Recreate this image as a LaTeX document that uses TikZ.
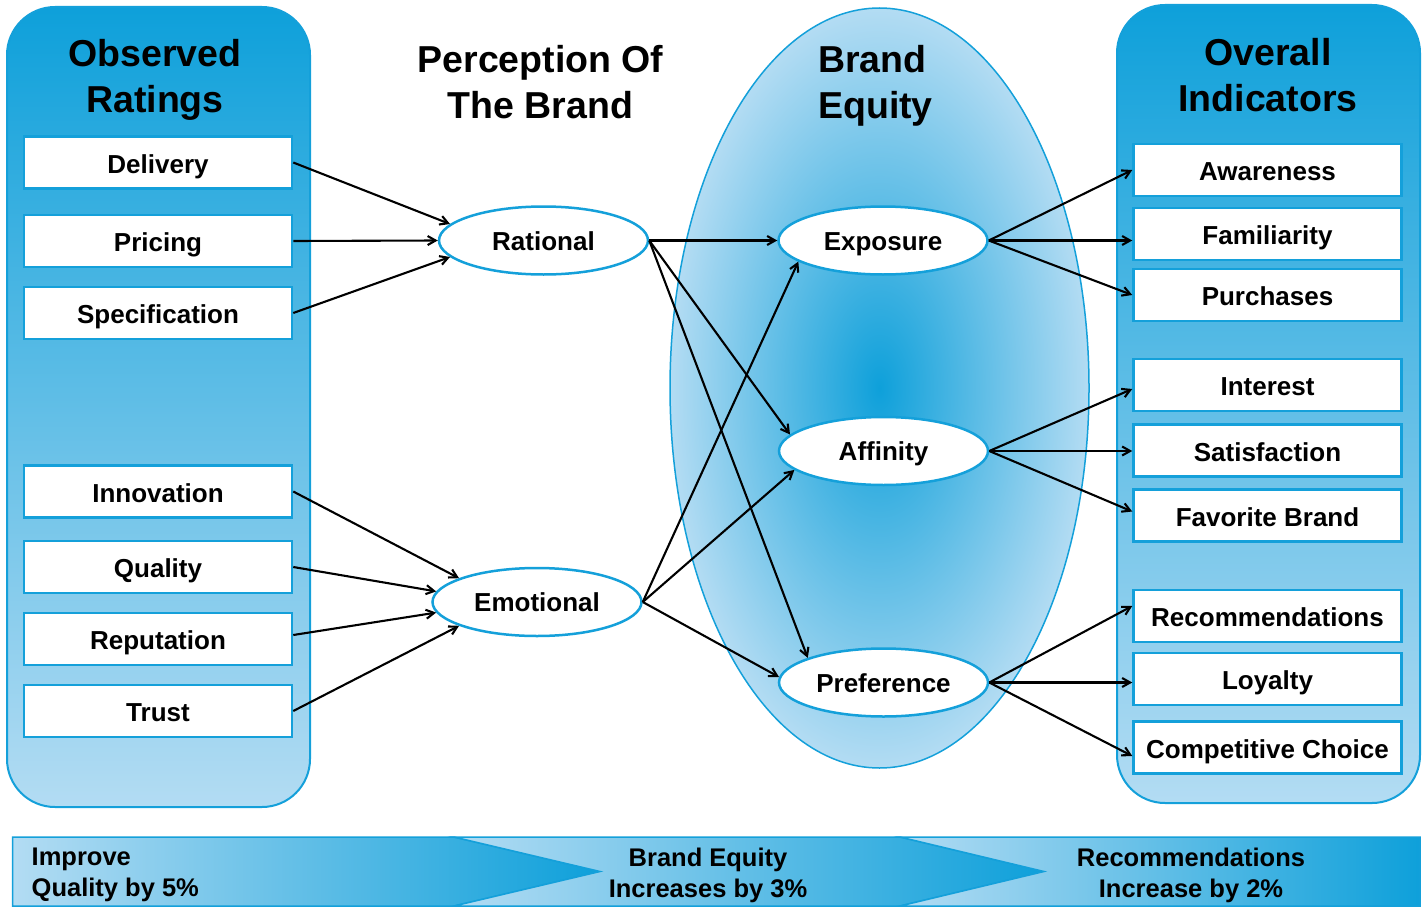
\documentclass[tikz,border=0pt]{standalone}
\usepackage{fontspec}
\setmainfont{Liberation Sans}
\usetikzlibrary{shapes.geometric,arrows.meta}
\definecolor{rim}{HTML}{14A0DA}
\definecolor{deep}{HTML}{0EA0DA}
\definecolor{pale}{HTML}{B3DCF3}
\begin{document}
\begin{tikzpicture}[x=1pt,y=-1pt,
  panel/.style={draw=rim, line width=2pt, top color=deep, bottom color=pale, rounded corners=48pt},
  chevron/.style={draw=rim, line width=1.5pt, left color=pale, right color=deep},
  rating/.style={draw=rim, line width=2.5pt, fill=white, minimum width=268pt, minimum height=52pt,
    inner sep=0pt, text height=23pt, text depth=2pt, font=\bfseries\fontsize{26}{30}\selectfont},
  factor/.style={ellipse, draw=rim, line width=2.5pt, fill=white, minimum width=209pt, minimum height=68pt,
    inner sep=0pt, text height=21pt, text depth=2pt, font=\bfseries\fontsize{26}{30}\selectfont},
  heading/.style={inner sep=0pt, font=\bfseries\fontsize{37.5}{46}\selectfont},
  bannertext/.style={inner sep=0pt, font=\bfseries\fontsize{25.5}{31}\selectfont},
  link/.style={draw=black, line width=2.1pt, -{Straight Barb[length=8pt,width=9pt]}}
]
% canvas
\fill[white] (0,0) rectangle (1426,907);
\useasboundingbox (0,0) rectangle (1426,907);

% bottom banner: three chevrons
\path[chevron] (12.5,837) -- (454,837) -- (600,871.5) -- (454,906) -- (12.5,906) -- cycle;
\path[chevron] (454,837) -- (900,837) -- (1044,871.5) -- (900,906) -- (454,906) -- (600,871.5) -- cycle;
\path[chevron] (900,837) -- (1420,837) -- (1420,906) -- (900,906) -- (1044,871.5) -- cycle;
\node[bannertext, align=left, anchor=west] (bn1) at (31.5,875) {Improve\\Quality by 5\%};
\node[bannertext, align=center] (bn2) at (708,875) {Brand Equity\\Increases by 3\%};
\node[bannertext, align=center] (bn3) at (1191,875) {Recommendations\\Increase by 2\%};

% side panels
\path[panel] (7,7) rectangle (310,807);
\path[panel] (1117,5) rectangle (1420,803);

% brand equity zone
\path[draw=rim, line width=1.5pt, inner color=deep, outer color=pale]
  (879.5,388) ellipse [x radius=209.5, y radius=380];

% headings
\node[heading, align=center] (obsTitle) at (155,80.2) {Observed\\Ratings};
\node[heading, align=center] (ovrTitle) at (1268,74.7) {Overall\\Indicators};
\node[heading, align=center] (percTitle) at (540.5,81.7) {Perception Of\\The Brand};
\node[heading, align=left, anchor=west] (eqTitle) at (818,85.9) {Brand\\Equity};

% observed ratings
\node[rating] (delivery) at (158,162.5) {Delivery};
\node[rating] (pricing)  at (158,241)   {Pricing};
\node[rating] (spec)     at (158,313)   {Specification};
\node[rating] (innov)    at (158,491.5) {Innovation};
\node[rating] (quality)  at (158,567)   {Quality};
\node[rating] (reput)    at (158,639)   {Reputation};
\node[rating] (trust)    at (158,711)   {Trust};

% perception
\node[factor] (rational)  at (543.5,240.5) {Rational};
\node[factor] (emotional) at (537,602)     {Emotional};

% brand equity
\node[factor] (exposure)   at (883,240.5)   {Exposure};
\node[factor] (affinity)   at (883.5,451)   {Affinity};
\node[factor] (preference) at (883.5,682.5) {Preference};

% overall indicators
\node[rating] (aware)    at (1267.5,170)   {Awareness};
\node[rating] (famil)    at (1267.5,234)   {Familiarity};
\node[rating] (purch)    at (1267.5,295)   {Purchases};
\node[rating] (interest) at (1267.5,385)   {Interest};
\node[rating] (satis)    at (1267.5,450.5) {Satisfaction};
\node[rating] (favorite) at (1267.5,515.5) {Favorite Brand};
\node[rating] (recomm)   at (1267.5,616)   {Recommendations};
\node[rating] (loyal)    at (1267.5,679)   {Loyalty};
\node[rating] (compet)   at (1267.5,747.5) {Competitive Choice};

% ratings -> perception
\draw[link] (delivery.east) -- (rational.170);
\draw[link] (pricing.east) -- (rational.west);
\draw[link] (spec.east) -- (rational.190);
\draw[link] (innov.east) -- (emotional.163);
\draw[link] (quality.east) -- (emotional.174);
\draw[link] ([yshift=4pt]reput.east) -- (emotional.186);
\draw[link] (trust.east) -- (emotional.197);

% perception -> brand equity
\draw[link] (rational.east) -- (exposure.west);
\draw[link] (rational.east) -- (affinity.170);
\draw[link] (rational.east) -- (preference.162);
\draw[link] (emotional.east) -- (exposure.194);
\draw[link] (emotional.east) -- (affinity.192);
\draw[link] (emotional.east) -- (preference.177);

% brand equity -> indicators
\draw[link] (exposure.east) -- (aware.west);
\draw[link] (exposure.east) -- (exposure.east -| famil.west);
\draw[link] (exposure.east) -- (purch.west);
\draw[link] (affinity.east) -- ([yshift=-4pt]interest.west);
\draw[link] (affinity.east) -- (affinity.east -| satis.west);
\draw[link] (affinity.east) -- ([yshift=4pt]favorite.west);
\draw[link] (preference.east) -- ([yshift=10pt]recomm.west);
\draw[link] (preference.east) -- (preference.east -| loyal.west);
\draw[link] (preference.east) -- ([yshift=-8.5pt]compet.west);
\end{tikzpicture}
\end{document}
